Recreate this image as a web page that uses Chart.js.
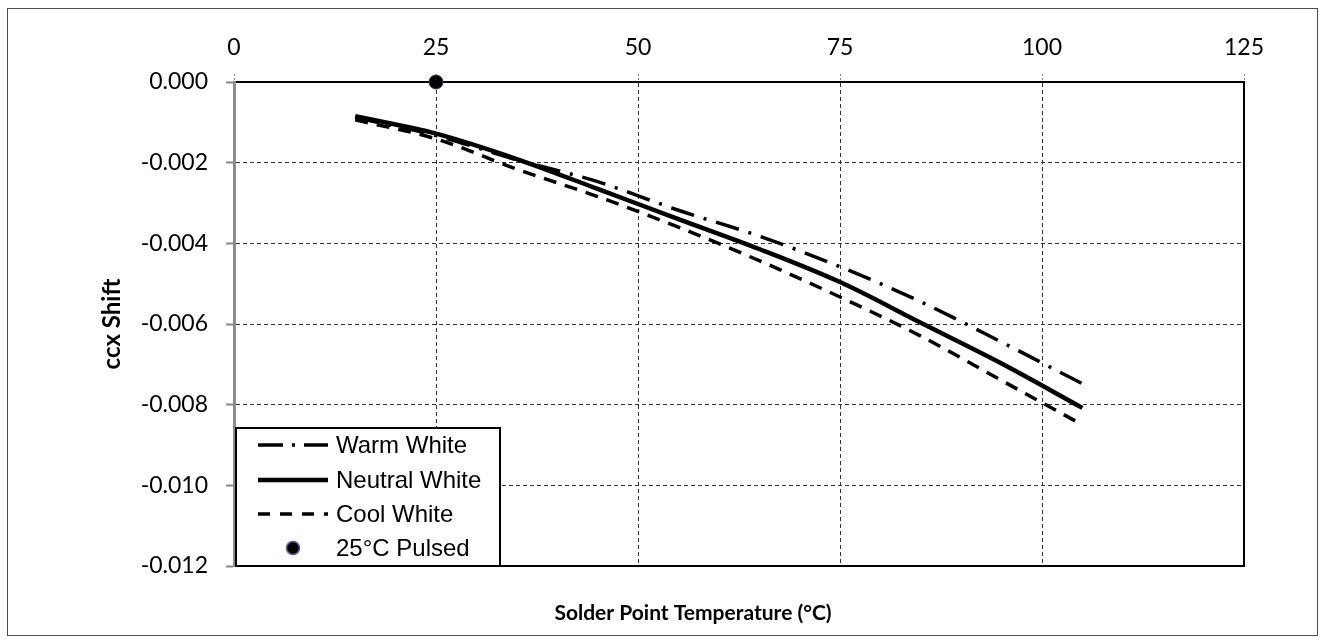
<!DOCTYPE html>
<html lang="en">
<head>
<meta charset="utf-8" />
<script src="https://cdn.jsdelivr.net/npm/chart.js@4.4.1/dist/chart.umd.min.js"></script>
<style>
  body { margin: 0; background: #fff; }
  canvas { display: block; }
</style>
<title>ccx Shift</title>
</head>
<body>
<canvas id="grafico" width="1320" height="641"></canvas>
<script>
// Data
const temperaturas = [15, 25, 35, 45, 55, 65, 75, 85, 95, 105];
const warmWhite    = [-0.00088, -0.00133, -0.00193, -0.00247, -0.00318, -0.00382, -0.00458, -0.00545, -0.00645, -0.00748];
const neutralWhite = [-0.00085, -0.00128, -0.00191, -0.00265, -0.00340, -0.00414, -0.00496, -0.00597, -0.00698, -0.00808];
const coolWhite    = [-0.00094, -0.00141, -0.00216, -0.00284, -0.00360, -0.00443, -0.00533, -0.00630, -0.00740, -0.00850];
const pulsedTemp  = [25];
const pulsedShift = [0];
const nombres = ["Warm White", "Neutral White", "Cool White", "25°C Pulsed"];
const xTicks = [0, 25, 50, 75, 100, 125];
const yTicks = [0, -0.002, -0.004, -0.006, -0.008, -0.010, -0.012];
const xTitulo = "Solder Point Temperature (°C)";
const yTitulo = "ccx Shift";

const puntos = (xs, ys) => xs.map((x, i) => ({ x: x, y: ys[i] }));

Chart.defaults.font.family = "Lato";
Chart.defaults.color = "#000";

// frame around the whole picture
const marco = {
  id: "marco",
  beforeDraw(chart) {
    const ctx = chart.ctx;
    ctx.save();
    ctx.fillStyle = "#fff";
    ctx.fillRect(0, 0, chart.width, chart.height);
    ctx.strokeStyle = "#4d4d4d";
    ctx.lineWidth = 1;
    ctx.strokeRect(7.5, 8.5, 1310, 627);
    ctx.restore();
  }
};

// legend box inside the plot + bottom axis title
const leyenda = {
  id: "leyenda",
  afterDraw(chart) {
    const ctx = chart.ctx;
    const a = chart.chartArea;
    ctx.save();
    // x title, a bit left of center like the original
    ctx.font = "bold 21px Lato";
    ctx.fillStyle = "#000";
    ctx.textAlign = "center";
    ctx.textBaseline = "middle";
    ctx.fillText(xTitulo, a.left + 459, a.bottom + 47);

    const bx = a.left + 2, by = a.bottom - 138, bw = 264, bh = 138;
    ctx.fillStyle = "#fff";
    ctx.fillRect(bx, by, bw, bh);
    ctx.strokeStyle = "#000";
    ctx.lineWidth = 2;
    ctx.strokeRect(bx, by, bw, bh);

    const filas = [17, 52, 86, 120];
    ctx.font = "24px 'Liberation Sans'";
    ctx.textAlign = "left";
    chart.data.datasets.forEach((ds, i) => {
      const y = by + filas[i];
      if (ds.showLine !== false) {
        ctx.beginPath();
        ctx.setLineDash(ds.legendDash);
        ctx.lineWidth = ds.borderWidth;
        ctx.strokeStyle = "#000";
        ctx.moveTo(bx + 22, y);
        ctx.lineTo(bx + 92, y);
        ctx.stroke();
        ctx.setLineDash([]);
      } else {
        ctx.beginPath();
        ctx.arc(bx + 57, y, 6.5, 0, Math.PI * 2);
        ctx.fillStyle = "#000";
        ctx.fill();
        ctx.lineWidth = 1.5;
        ctx.strokeStyle = "#6b559a";
        ctx.stroke();
      }
      ctx.fillStyle = "#000";
      ctx.fillText(ds.label, bx + 100, y + 1);
    });
    ctx.restore();
  }
};

new Chart(document.getElementById("grafico").getContext("2d"), {
  type: "line",
  data: {
    datasets: [
      { label: nombres[0], data: puntos(temperaturas, warmWhite), borderColor: "#000", borderWidth: 3.5,
        borderDash: [24, 10, 3, 10], legendDash: [25, 9, 3, 9], pointRadius: 0, cubicInterpolationMode: "monotone" },
      { label: nombres[1], data: puntos(temperaturas, neutralWhite), borderColor: "#000", borderWidth: 4.5,
        borderDash: [], legendDash: [], pointRadius: 0, cubicInterpolationMode: "monotone" },
      { label: nombres[2], data: puntos(temperaturas, coolWhite), borderColor: "#000", borderWidth: 3.5,
        borderDash: [13, 9], legendDash: [12, 10], pointRadius: 0, cubicInterpolationMode: "monotone" },
      { label: nombres[3], data: puntos(pulsedTemp, pulsedShift), showLine: false, clip: false,
        pointRadius: 7, pointBackgroundColor: "#000", pointBorderColor: "#3d3060", pointBorderWidth: 1 }
    ]
  },
  options: {
    responsive: false,
    devicePixelRatio: 1,
    animation: false,
    layout: { padding: 0 },
    plugins: { legend: { display: false }, tooltip: { enabled: false } },
    scales: {
      x: {
        type: "linear", position: "top", min: 0, max: 125,
        afterBuildTicks: s => { s.ticks = xTicks.map(v => ({ value: v })); },
        afterFit: s => { s.height = 82; },
        ticks: { font: { size: 23 }, padding: 13, maxRotation: 0 },
        grid: { color: "#333", lineWidth: 1, tickLength: 8, tickColor: "#888", tickBorderDash: [2, 2] },
        border: { color: "#000", width: 2, dash: [4, 3] }
      },
      xAbajo: {
        type: "linear", position: "bottom", min: 0, max: 125,
        afterFit: s => { s.height = 75; },
        ticks: { display: false },
        grid: { display: false },
        border: { color: "#000", width: 2 }
      },
      y: {
        type: "linear", position: "left", min: -0.012, max: 0,
        afterBuildTicks: s => { s.ticks = yTicks.map(v => ({ value: v })); },
        afterFit: s => { s.width = 234; },
        ticks: { font: { size: 23 }, padding: 18, callback: v => v.toFixed(3) },
        grid: { color: "#333", lineWidth: 1, tickLength: 8, tickColor: "#888", tickWidth: 2, tickBorderDash: [] },
        border: { color: "#8c8c8c", width: 3, dash: [4, 3] },
        title: { display: true, text: yTitulo, font: { size: 24, weight: "bold" }, padding: { top: 98, bottom: 0 } }
      },
      yDerecha: {
        type: "linear", position: "right", min: -0.012, max: 0,
        afterFit: s => { s.width = 76; },
        ticks: { display: false },
        grid: { display: false },
        border: { color: "#000", width: 2 }
      }
    }
  },
  plugins: [marco, leyenda]
});
</script>
</body>
</html>
